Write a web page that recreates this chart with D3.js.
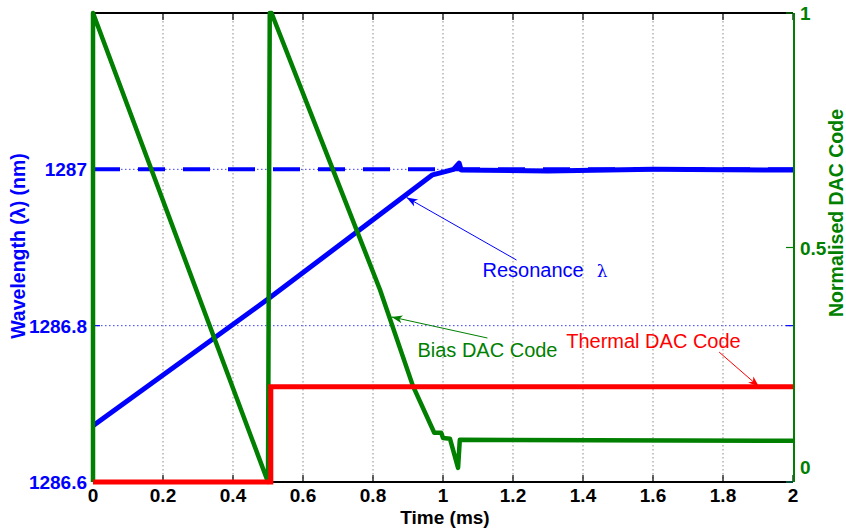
<!DOCTYPE html>
<html>
<head>
<meta charset="utf-8">
<script src="https://cdn.jsdelivr.net/npm/d3@7"></script>
<style>
  body { margin: 0; background: #fff; }
  svg text { font-family: "Liberation Sans", Arial, sans-serif; }
</style>
</head>
<body>
<div id="vis-container"></div>
<script>
const width = 846,
    height = 531;

const margin = {top: 13, right: 52, bottom: 49, left: 93};

// resonance wavelength (left axis, nm)
const resTime = [0, 0.5, 0.97, 1.006, 1.03, 1.046, 1.052, 1.3, 1.6, 2];
const resWave = [1286.672, 1286.834, 1286.993, 1286.997, 1287.0, 1287.008, 1286.999, 1286.998, 1287.0, 1286.999];

// target wavelength (dashed)
const targetWave = 1287;

// bias DAC code (right axis, normalised)
const biasTime = [0, 0, 0.5, 0.505, 0.51, 0.686, 0.82, 0.914, 0.975, 0.995, 1.0, 1.02, 1.043, 1.048, 2];
const biasCode = [0, 1, 0, 1, 1, 0.665, 0.41, 0.205, 0.105, 0.105, 0.094, 0.092, 0.03, 0.09, 0.088];

// thermal DAC code (right axis, normalised)
const thermTime = [0, 0.508, 0.508, 2];
const thermCode = [0, 0, 0.203, 0.203];

const xTicks = [0, 0.2, 0.4, 0.6, 0.8, 1, 1.2, 1.4, 1.6, 1.8, 2];
const leftTicks = [1286.6, 1286.8, 1287];
const rightTicks = [0, 0.5, 1];

const blue = "#0000ff", green = "#007f00", red = "#ff0000";

var svg = d3.select("#vis-container").append("svg")
    .attr("width", width)
    .attr("height", height);

var x = d3.scaleLinear().domain([0, 2]).range([margin.left, width - margin.right - 1]);
var yL = d3.scaleLinear().domain([1286.6, 1287.2]).range([height - margin.bottom, margin.top]);
var yR = d3.scaleLinear().domain([0, 1]).range([height - margin.bottom, margin.top]);

var defs = svg.append("defs");
function marker(id, color) {
  defs.append("marker")
      .attr("id", id)
      .attr("viewBox", "0 0 12 10")
      .attr("refX", 11).attr("refY", 5)
      .attr("markerWidth", 12).attr("markerHeight", 10)
      .attr("markerUnits", "userSpaceOnUse")
      .attr("orient", "auto")
    .append("path")
      .attr("d", "M0,1 L11,5 L0,9 L3,5 Z")
      .attr("fill", color);
}
marker("ab", blue);
marker("ag", green);
marker("ar", red);

// grid
var grid = svg.append("g");
grid.selectAll("line.vx")
    .data(xTicks.slice(1, -1))
    .enter().append("line")
    .attr("x1", d => x(d)).attr("x2", d => x(d))
    .attr("y1", yL.range()[1]).attr("y2", yL.range()[0])
    .attr("stroke", "#8a8a8a").attr("stroke-width", 1)
    .attr("stroke-dasharray", "1.5,2.5");
grid.selectAll("line.hy")
    .data(leftTicks.slice(1))
    .enter().append("line")
    .attr("x1", x(0)).attr("x2", x(2))
    .attr("y1", d => yL(d)).attr("y2", d => yL(d))
    .attr("stroke", "#3b3bff").attr("stroke-width", 1)
    .attr("stroke-dasharray", "1.5,2.5");

// frame: top and bottom black, ticks
svg.append("line")
    .attr("x1", x(0)).attr("x2", x(2))
    .attr("y1", yL(1287.2)).attr("y2", yL(1287.2))
    .attr("stroke", "#000").attr("stroke-width", 2);
svg.append("line")
    .attr("x1", x(0)).attr("x2", x(2))
    .attr("y1", yL(1286.6)).attr("y2", yL(1286.6))
    .attr("stroke", "#000").attr("stroke-width", 2);

var tk = svg.append("g");
tk.selectAll("line.bt").data(xTicks).enter().append("line")
    .attr("x1", d => x(d)).attr("x2", d => x(d))
    .attr("y1", yL(1286.6)).attr("y2", yL(1286.6) - 7)
    .attr("stroke", "#000").attr("stroke-width", 1.2);
tk.selectAll("line.tt").data(xTicks).enter().append("line")
    .attr("x1", d => x(d)).attr("x2", d => x(d))
    .attr("y1", yL(1287.2)).attr("y2", yL(1287.2) + 7)
    .attr("stroke", "#000").attr("stroke-width", 1.2);
tk.selectAll("line.lt").data(leftTicks).enter().append("line")
    .attr("x1", x(0)).attr("x2", x(0) + 7)
    .attr("y1", d => yL(d)).attr("y2", d => yL(d))
    .attr("stroke", blue).attr("stroke-width", 1.2);
tk.selectAll("line.lt2").data(leftTicks).enter().append("line")
    .attr("x1", x(2)).attr("x2", x(2) - 7)
    .attr("y1", d => yL(d)).attr("y2", d => yL(d))
    .attr("stroke", blue).attr("stroke-width", 1.2);
tk.selectAll("line.rt").data(rightTicks).enter().append("line")
    .attr("x1", x(2)).attr("x2", x(2) - 7)
    .attr("y1", d => yR(d)).attr("y2", d => yR(d))
    .attr("stroke", green).attr("stroke-width", 1.2);

// data lines
var lineL = d3.line().x(d => x(d[0])).y(d => yL(d[1]));
var lineR = d3.line().x(d => x(d[0])).y(d => yR(d[1]));

svg.append("path")
    .attr("d", lineL([[0, targetWave], [2, targetWave]]))
    .attr("fill", "none").attr("stroke", blue).attr("stroke-width", 4)
    .attr("stroke-dasharray", "27,18");

svg.append("path")
    .attr("d", lineL(d3.zip(resTime, resWave)))
    .attr("fill", "none").attr("stroke", blue).attr("stroke-width", 5)
    .attr("stroke-linejoin", "round");

svg.append("path")
    .attr("d", lineR(d3.zip(biasTime, biasCode)))
    .attr("fill", "none").attr("stroke", green).attr("stroke-width", 4.5)
    .attr("stroke-linejoin", "round");

svg.append("path")
    .attr("d", lineR(d3.zip(thermTime, thermCode)))
    .attr("fill", "none").attr("stroke", red).attr("stroke-width", 5);

// right axis line
svg.append("line")
    .attr("x1", x(2) + 1).attr("x2", x(2) + 1)
    .attr("y1", yR(0)).attr("y2", yR(1))
    .attr("stroke", green).attr("stroke-width", 2);

// tick labels
svg.append("g").selectAll("text").data(xTicks).enter().append("text")
    .attr("x", d => x(d)).attr("y", yL(1286.6) + 20)
    .attr("text-anchor", "middle")
    .attr("font-size", 19).attr("font-weight", "bold").attr("fill", "#000")
    .text(d => d);
svg.append("g").selectAll("text").data(leftTicks).enter().append("text")
    .attr("x", x(0) - 6).attr("y", d => yL(d) + 7)
    .attr("text-anchor", "end")
    .attr("font-size", 19).attr("font-weight", "bold").attr("fill", blue)
    .text(d => d);
svg.append("g").selectAll("text").data(rightTicks).enter().append("text")
    .attr("x", x(2) + 7).attr("y", d => yR(d) + (d === 0 ? -8 : 7))
    .attr("text-anchor", "start")
    .attr("font-size", 19).attr("font-weight", "bold").attr("fill", green)
    .text(d => d);

// axis titles
svg.append("text")
    .attr("x", (x(0) + x(2)) / 2 + 2).attr("y", 524)
    .attr("text-anchor", "middle")
    .attr("font-size", 19).attr("font-weight", "bold")
    .text("Time (ms)");
svg.append("text")
    .attr("transform", "translate(25,246) rotate(-90)")
    .attr("text-anchor", "middle")
    .attr("font-size", 19.5).attr("font-weight", "bold").attr("fill", blue)
    .text("Wavelength (λ) (nm)");
svg.append("text")
    .attr("transform", "translate(843,213) rotate(-90)")
    .attr("text-anchor", "middle")
    .attr("font-size", 19.5).attr("font-weight", "bold").attr("fill", green)
    .text("Normalised DAC Code");

// annotations
svg.append("line")
    .attr("x1", x(1.21)).attr("y1", yL(1286.884))
    .attr("x2", x(0.896)).attr("y2", yL(1286.964))
    .attr("stroke", blue).attr("stroke-width", 1)
    .attr("marker-end", "url(#ab)");
var rt = svg.append("text")
    .attr("x", x(1.113)).attr("y", yL(1286.862))
    .attr("font-size", 20).attr("fill", blue);
rt.append("tspan").text("Resonance");
rt.append("tspan").attr("dx", 13)
    .attr("font-family", "DejaVu Serif, serif").attr("font-size", 17)
    .text("λ");

svg.append("line")
    .attr("x1", x(1.127)).attr("y1", yR(0.307))
    .attr("x2", x(0.853)).attr("y2", yR(0.352))
    .attr("stroke", green).attr("stroke-width", 1)
    .attr("marker-end", "url(#ag)");
svg.append("text")
    .attr("x", x(0.927)).attr("y", yR(0.267))
    .attr("font-size", 20).attr("fill", green)
    .text("Bias DAC Code");

svg.append("line")
    .attr("x1", x(1.789)).attr("y1", yR(0.277))
    .attr("x2", x(1.903)).attr("y2", yR(0.203))
    .attr("stroke", red).attr("stroke-width", 1)
    .attr("marker-end", "url(#ar)");
svg.append("text")
    .attr("x", x(1.352)).attr("y", yR(0.286))
    .attr("font-size", 20).attr("fill", red)
    .text("Thermal DAC Code");
</script>
</body>
</html>
